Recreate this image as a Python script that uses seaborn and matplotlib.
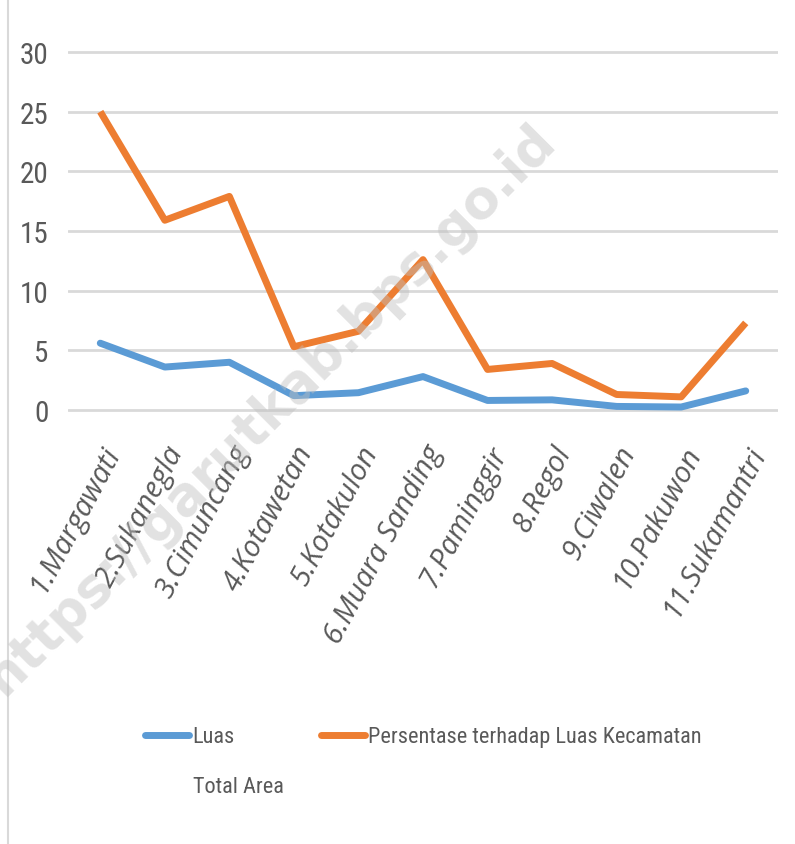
import numpy as np
import pandas as pd
import matplotlib
matplotlib.use("Agg")
import matplotlib.pyplot as plt
import seaborn as sns
from matplotlib.lines import Line2D
from matplotlib import font_manager as fm

desa = ["1.Margawati", "2.Sukanegla", "3.Cimuncang", "4.Kotawetan", "5.Kotakulon",
        "6.Muara Sanding", "7.Paminggir", "8.Regol", "9.Ciwalen", "10.Pakuwon",
        "11.Sukamantri"]
luas = [5.6, 3.6, 4.0, 1.2, 1.45, 2.8, 0.8, 0.85, 0.3, 0.25, 1.6]
persentase = [25.0, 15.9, 17.9, 5.3, 6.6, 12.6, 3.4, 3.9, 1.3, 1.1, 7.3]

df = pd.DataFrame({"desa": desa, "Luas": luas, "Persentase": persentase})
df["x"] = np.arange(len(desa))

sns.set_theme(style="white")
plt.rcParams["font.family"] = ["DejaVu Sans"]


def find_font(stretch_word, style):
    # first installed face matching stretch + style, by preferred family
    prefer = ["Liberation Sans Narrow", "Roboto Condensed", "Open Sans Condensed",
              "Open Sans", "Noto Sans", "Roboto", "Lato", "Liberation Sans", "DejaVu Sans"]
    cands = [f for f in fm.fontManager.ttflist
             if stretch_word in str(f.stretch) and f.style == style
             and f.weight in (400, "normal", "regular")]
    for name in prefer:
        for f in cands:
            if f.name == name:
                return f.fname
    return cands[0].fname if cands else None


narrow_path = find_font("condensed", "normal")
italic_path = find_font("normal", "italic")


def fprop(size, path):
    if path:
        return fm.FontProperties(fname=path, size=size)
    return fm.FontProperties(family="Roboto", size=size * 0.85)


BLUE = "#5B9BD5"
ORANGE = "#ED7D31"
TXT = "#595959"

fig = plt.figure(figsize=(7.95, 8.45), dpi=100)
ppu = 358 / 30
ax = fig.add_axes([68 / 795, 1 - (411 + 0.2 * ppu) / 845, 710 / 795, 30.4 * ppu / 845])

ax.yaxis.grid(True, color="#D9D9D9", linewidth=2)
ax.set_axisbelow(True)

sns.lineplot(data=df, x="x", y="Luas", ax=ax, color=BLUE, linewidth=5,
             solid_capstyle="round", clip_on=False)
sns.lineplot(data=df, x="x", y="Persentase", ax=ax, color=ORANGE, linewidth=5,
             solid_capstyle="butt", clip_on=False)

ax.set_xlim(-0.5, len(desa) - 0.5)
ax.set_ylim(-0.2, 30.2)
ax.set_yticks(range(0, 31, 5))
ax.set_xticks(df["x"])
ax.set_xticklabels(desa, rotation=62, ha="right", rotation_mode="anchor", color=TXT)
for lbl in ax.get_xticklabels():
    lbl.set_fontproperties(fprop(21, italic_path))
ax.tick_params(axis="y", colors=TXT, pad=14, length=0)
for lbl in ax.get_yticklabels():
    lbl.set_fontproperties(fprop(21, narrow_path))
ax.tick_params(axis="x", length=0, pad=20)
ax.set_xlabel("")
ax.set_ylabel("")
for s in ax.spines.values():
    s.set_visible(False)

# watermark
fig.text(0.34, 0.515, "https://garutkab.bps.go.id", fontsize=38, fontweight="bold",
         color="#BFBFBF", alpha=0.45, rotation=45, ha="center", va="center",
         family="DejaVu Sans")

# left border of the chart area
fig.add_artist(Line2D([8 / 795, 8 / 795], [0, 1], color="#D9D9D9", linewidth=1.5))

# legend
handles = [Line2D([], [], color=BLUE, linewidth=5, solid_capstyle="round"),
           Line2D([], [], color=ORANGE, linewidth=5, solid_capstyle="round")]
leg = fig.legend(handles, ["Luas", "Persentase terhadap Luas Kecamatan"],
                 loc="center left", bbox_to_anchor=(125 / 795, 1 - 738 / 845),
                 ncol=2, frameon=False, prop=fprop(16, narrow_path), handlelength=2.0,
                 handletextpad=0.12, columnspacing=3.9, labelcolor=TXT)
fig.text(193 / 795, 1 - 788 / 845, "Total Area", fontproperties=fprop(16, narrow_path),
         color=TXT, va="center", ha="left")

fig.savefig("out.png", dpi=100, facecolor="white")
